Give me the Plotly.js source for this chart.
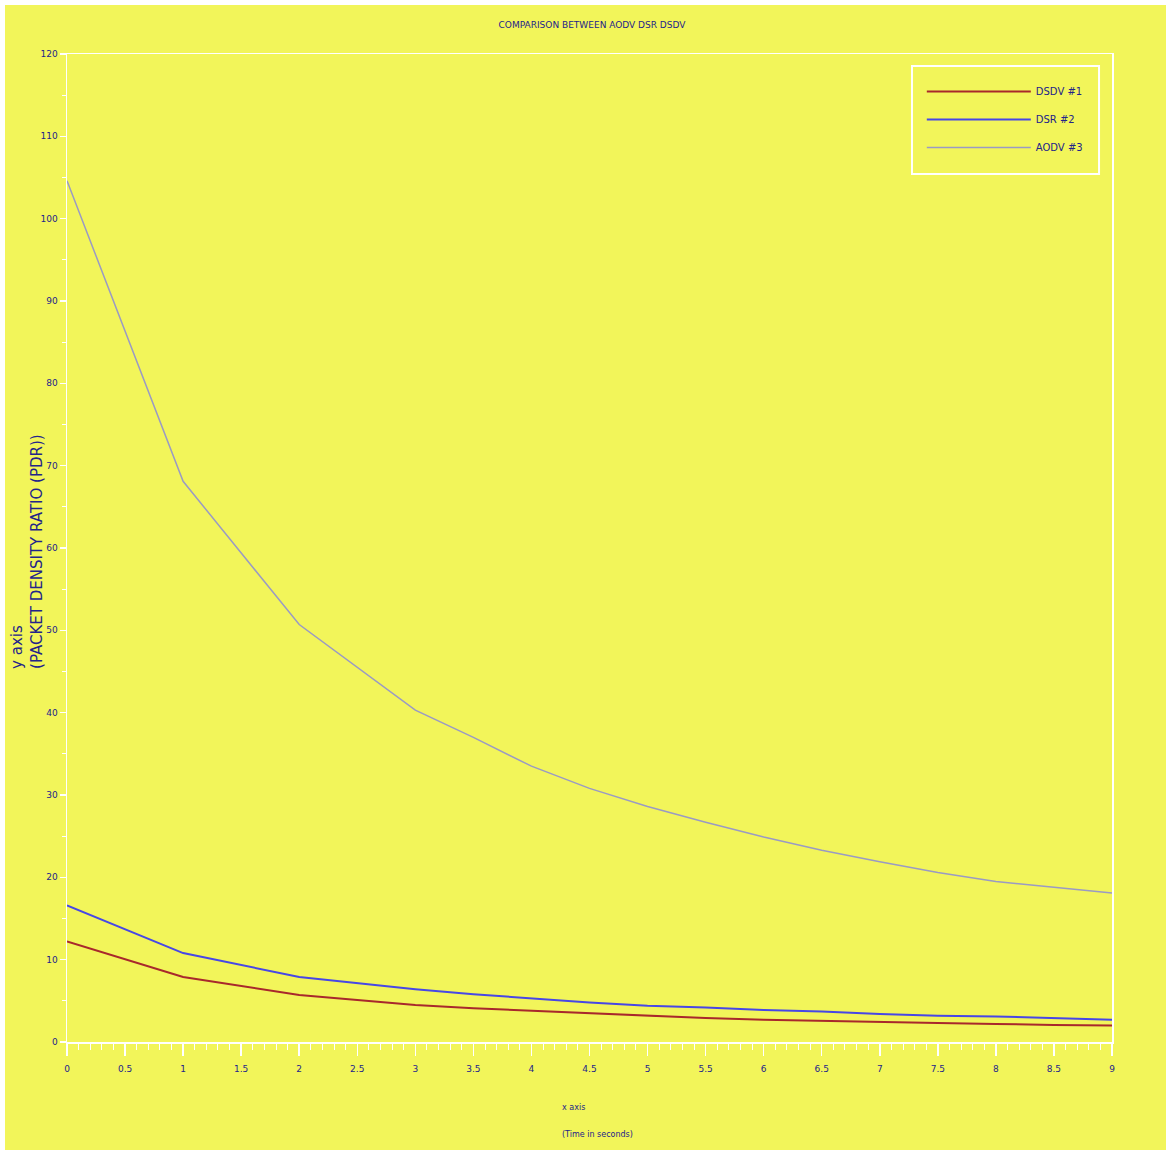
<!DOCTYPE html>
<html>
<head>
<meta charset="utf-8">
<script src="https://cdn.plot.ly/plotly-3.0.1.min.js"></script>
<style>
html,body{margin:0;padding:0;background:#ffffff;}
#chart{position:absolute;left:5px;top:5px;width:1161px;height:1145px;}
</style>
</head>
<body>
<div id="chart"></div>
<script>
// Data
const xValues = [0, 1, 2, 3, 3.5, 4, 4.5, 5, 5.5, 6, 6.5, 7, 7.5, 8, 8.5, 9];
const dsdv = [12.2, 7.9, 5.7, 4.5, 4.1, 3.8, 3.5, 3.2, 2.9, 2.7, 2.55, 2.4, 2.3, 2.2, 2.05, 2.0];
const dsr  = [16.6, 10.8, 7.9, 6.4, 5.8, 5.3, 4.8, 4.4, 4.2, 3.9, 3.7, 3.4, 3.2, 3.1, 2.9, 2.7];
const aodv = [104.6, 68.1, 50.7, 40.3, 37.0, 33.5, 30.8, 28.6, 26.7, 24.9, 23.3, 21.9, 20.6, 19.5, 18.8, 18.1];
const seriesNames = ["DSDV #1", "DSR #2", "AODV #3"];
const titleText = "COMPARISON BETWEEN AODV DSR DSDV";
const xTitleLines = ["x axis", "(Time in seconds)"];
const yTitle = "y axis<br>(PACKET DENSITY RATIO (PDR))";
const xTickVals = [0, 0.5, 1, 1.5, 2, 2.5, 3, 3.5, 4, 4.5, 5, 5.5, 6, 6.5, 7, 7.5, 8, 8.5, 9];
const xTickText = ["0","0.5","1","1.5","2","2.5","3","3.5","4","4.5","5","5.5","6","6.5","7","7.5","8","8.5","9"];

const bg = "#f2f55a";
const txt = "#23238a";
const fam = "DejaVu Sans, sans-serif";

const traces = [
  {x: xValues, y: dsdv, name: seriesNames[0], legendgroup: "g1", mode: "lines", line: {color: "#a8282c", width: 2}},
  {x: xValues, y: dsr, name: seriesNames[1], legendgroup: "g2", mode: "lines", line: {color: "#4747e6", width: 2}},
  {x: xValues, y: aodv, name: seriesNames[2], legendgroup: "g3", mode: "lines", line: {color: "#9a9ac4", width: 1.5}}
];

const layout = {
  width: 1161, height: 1145,
  paper_bgcolor: bg, plot_bgcolor: bg,
  font: {family: fam, size: 10, color: txt},
  margin: {l: 62, r: 54, t: 49, b: 108},
  showlegend: true,
  title: {text: titleText, x: 0.5056, xanchor: "center", y: 0.985, yanchor: "top", font: {family: fam, size: 9, color: txt}},
  xaxis: {
    range: [0, 9], showgrid: false, zeroline: false,
    showline: true, linecolor: "#ffffff", linewidth: 1.5, mirror: true,
    tickmode: "array", tickvals: xTickVals, ticktext: xTickText,
    ticks: "outside", ticklen: 12, tickwidth: 1.5, tickcolor: "#ffffff",
    minor: {dtick: 0.1, ticks: "outside", ticklen: 6, tickwidth: 1, tickcolor: "#ffffff"},
    ticklabelstandoff: 6,
    tickfont: {size: 9, color: txt}
  },
  yaxis: {
    range: [0, 120], showgrid: false, zeroline: false,
    showline: true, linecolor: "#ffffff", linewidth: 1.5, mirror: true,
    tick0: 0, dtick: 10,
    ticks: "outside", ticklen: 6, tickwidth: 1.5, tickcolor: "#ffffff",
    minor: {dtick: 5, ticks: "outside", ticklen: 4, tickwidth: 1, tickcolor: "#ffffff"},
    tickfont: {size: 9, color: txt}
  },
  annotations: [
    {text: yTitle, xref: "paper", yref: "paper", x: -0.0383, y: 0.497, xanchor: "center", yanchor: "middle",
     textangle: -90, align: "left", showarrow: false, font: {family: fam, size: 15, color: txt}},
    {text: xTitleLines[0], xref: "paper", yref: "paper", x: 0.4718, y: -0.0658, xanchor: "left", yanchor: "middle",
     showarrow: false, font: {family: fam, size: 8, color: txt}},
    {text: xTitleLines[1], xref: "paper", yref: "paper", x: 0.4718, y: -0.0941, xanchor: "left", yanchor: "middle",
     showarrow: false, font: {family: fam, size: 8, color: txt}}
  ],
  shapes: [
    {type: "rect", xref: "paper", yref: "paper", x0: 0.8086, x1: 0.9876, y0: 0.8785, y1: 0.98785,
     line: {color: "#ffffff", width: 2}, fillcolor: "rgba(0,0,0,0)"}
  ],
  legend: {
    x: 0.818, y: 0.9767, xanchor: "left", yanchor: "top",
    bgcolor: "rgba(0,0,0,0)", borderwidth: 0,
    itemwidth: 104,
    traceorder: "grouped",
    tracegroupgap: 9,
    font: {size: 10, color: txt}
  }
};

Plotly.newPlot("chart", traces, layout, {displayModeBar: false, staticPlot: true});
</script>
</body>
</html>
